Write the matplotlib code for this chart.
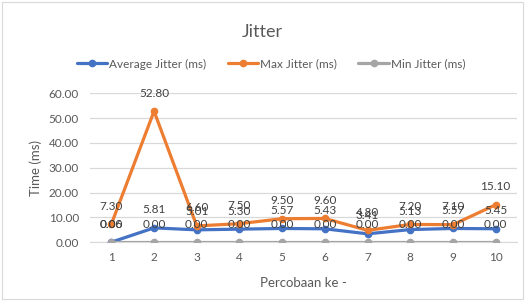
import numpy as np
import matplotlib.pyplot as plt
from matplotlib.patches import Rectangle

percobaan = [1, 2, 3, 4, 5, 6, 7, 8, 9, 10]
avg_jitter = [0.06, 5.81, 5.01, 5.30, 5.57, 5.43, 3.41, 5.13, 5.57, 5.45]
max_jitter = [7.30, 52.80, 6.60, 7.50, 9.50, 9.60, 4.80, 7.20, 7.10, 15.10]
min_jitter = [0.00, 0.00, 0.00, 0.00, 0.00, 0.00, 0.00, 0.00, 0.00, 0.00]
yticks = [0, 10, 20, 30, 40, 50, 60]

textColor = '#595959'
plt.rcParams['font.family'] = ['Lato', 'DejaVu Sans']

def main():
    W, H = 525, 301
    fig = plt.figure(figsize=(W / 100.0, H / 100.0), dpi=100)
    ax = fig.add_axes([90.0 / W, 1 - 242.3 / H, 427.0 / W, 149.0 / H])

    series = [
        (avg_jitter, '#4472C4', 'Average Jitter (ms)'),
        (max_jitter, '#ED7D31', 'Max Jitter (ms)'),
        (min_jitter, '#A5A5A5', 'Min Jitter (ms)'),
    ]
    x = np.array(percobaan)
    for values, color, label in series:
        ax.plot(x, values, color=color, lw=2.3, marker='o', ms=4.5,
                label=label, solid_capstyle='round', zorder=3)
        # data labels sit above each point, as in the spreadsheet chart
        for xi, yi in zip(x, values):
            ax.annotate('%.2f' % yi, (xi, yi), xytext=(0, 9),
                        textcoords='offset points', ha='center', va='bottom',
                        fontsize=8.5, color='#404040', zorder=4)

    ax.set_xlim(0.5, 10.5)
    ax.set_ylim(0, 60)
    ax.set_yticks(yticks)
    ax.set_yticklabels(['%.2f' % v for v in yticks])
    ax.set_xticks(x)
    ax.tick_params(axis='both', length=0, colors=textColor, labelsize=8.5)
    ax.tick_params(axis='y', pad=8)
    ax.tick_params(axis='x', pad=7)
    ax.grid(axis='y', color='#D9D9D9', lw=0.9)
    ax.set_axisbelow(True)
    for s in ['top', 'right', 'left']:
        ax.spines[s].set_visible(False)
    ax.spines['bottom'].set_color('#D9D9D9')

    ax.set_ylabel('Time (ms)', color=textColor, fontsize=9.5, labelpad=5)
    ax.set_xlabel('Percobaan ke -', color=textColor, fontsize=9.5, labelpad=10)

    fig.text(0.5, 1 - 32.0 / H, 'Jitter', ha='center', va='center',
             fontsize=13, color=textColor)
    fig.legend(loc='center', bbox_to_anchor=(271.0 / W, 1 - 64.0 / H), ncol=3,
               frameon=False, fontsize=8.5, labelcolor=textColor,
               handlelength=2.6, handletextpad=0.15, columnspacing=1.8)

    fig.patches.append(Rectangle((2.0 / W, 2.0 / H), 1 - 4.0 / W, 1 - 4.0 / H,
                                 transform=fig.transFigure, fill=False,
                                 edgecolor='#D9D9D9', lw=0.8))

    fig.savefig('out.png', dpi=100)

if __name__ == '__main__':
    main()
